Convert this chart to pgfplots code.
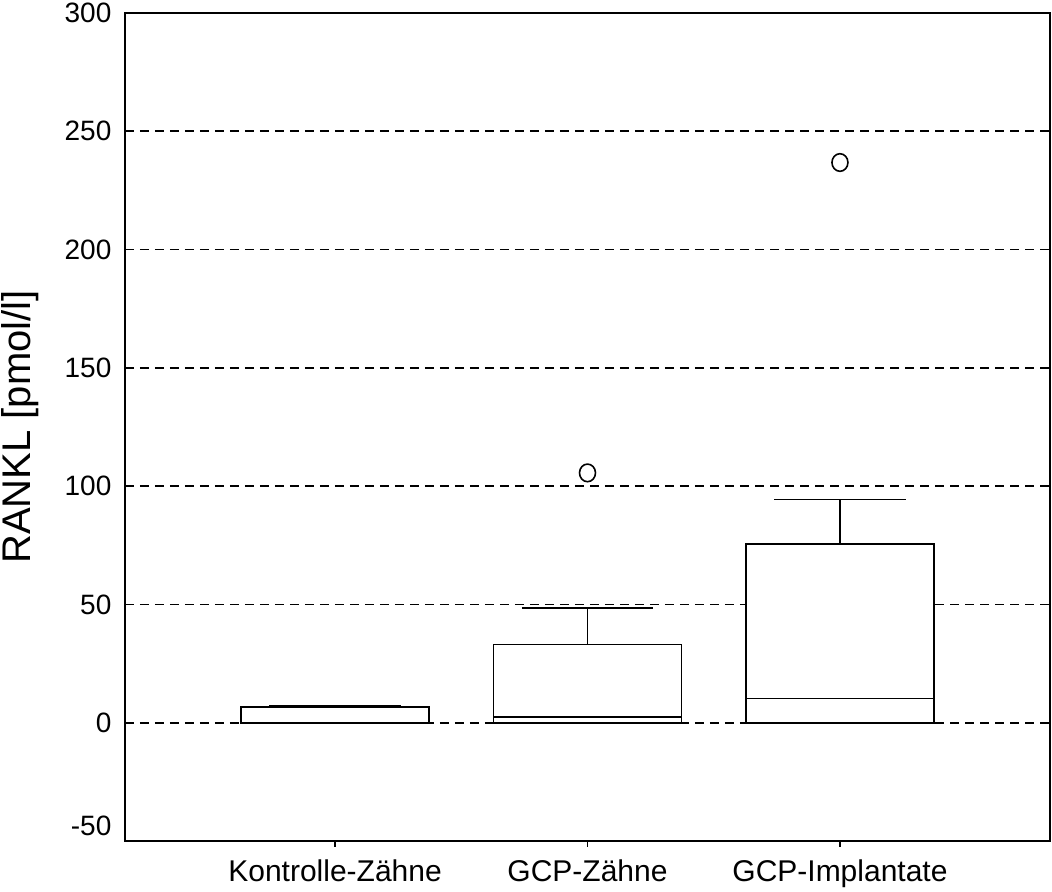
\documentclass[border=0pt]{standalone}
\usepackage{fontspec}
\setmainfont{Liberation Sans}
\usepackage{pgfplots}
\pgfplotsset{compat=1.18}
\usepgfplotslibrary{statistics}
\begin{document}
\begin{tikzpicture}
\begin{axis}[
  name=ax,
  scale only axis,
  width=462.5pt, height=414pt,
  xmin=0.168, xmax=3.832,
  ymin=-50, ymax=300,
  axis line style={line width=0.8pt},
  xtick={1,2,3},
  xticklabels={Kontrolle-Zähne,GCP-Zähne,GCP-Implantate},
  xtick pos=bottom,
  xtick align=outside,
  x tick style={line width=0.8pt, black},
  major tick length=3pt,
  ytick={0,50,...,300},
  y tick style={draw=none},
  extra y ticks={-50},
  extra y tick style={grid=none, yticklabel style={yshift=7.5pt}},
  ymajorgrids,
  major grid style={black, line width=0.8pt, dash pattern=on 4.5pt off 3pt},
  /pgf/number format/assume math mode=true,
  yticklabel style={font=\fontsize{14}{16}\selectfont, xshift=-3.3pt},
  xticklabel style={font=\fontsize{15}{17}\selectfont, yshift=-3pt},
  ylabel={RANKL [pmol/l]},
  ylabel style={font=\fontsize{20}{24}\selectfont, at={(axis description cs:-0.1135,0.5)}, anchor=center, rotate=0},
  boxplot/draw direction=y,
]
\addplot[black, line width=0.8pt, fill=white, solid, mark=none,
  boxplot prepared={draw position=1, lower whisker=0, lower quartile=0, median=0,
    upper quartile=6.6, upper whisker=7.1, box extend=0.745, whisker extend=0.52}]
  coordinates {};
\addplot[black, line width=0.8pt, fill=white, solid, mark=none,
  boxplot prepared={draw position=2, lower whisker=0, lower quartile=0, median=2.4,
    upper quartile=33.1, upper whisker=48.6, box extend=0.745, whisker extend=0.52}]
  coordinates {};
\addplot[black, line width=0.8pt, fill=white, solid, mark=none,
  boxplot prepared={draw position=3, lower whisker=0, lower quartile=0, median=10.3,
    upper quartile=75.6, upper whisker=94.3, box extend=0.745, whisker extend=0.52}]
  coordinates {};
\addplot[only marks, mark=o, mark size=4pt, black,
  mark options={solid, line width=0.8pt, yscale=1.1}]
  coordinates {(2,105.6) (3,236.8)};
\end{axis}
\pgfresetboundingbox
\path[use as bounding box] ([shift={(-62.5pt,-25.5pt)}]ax.south west) rectangle ([shift={(1pt,6.5pt)}]ax.north east);
\end{tikzpicture}
\end{document}
